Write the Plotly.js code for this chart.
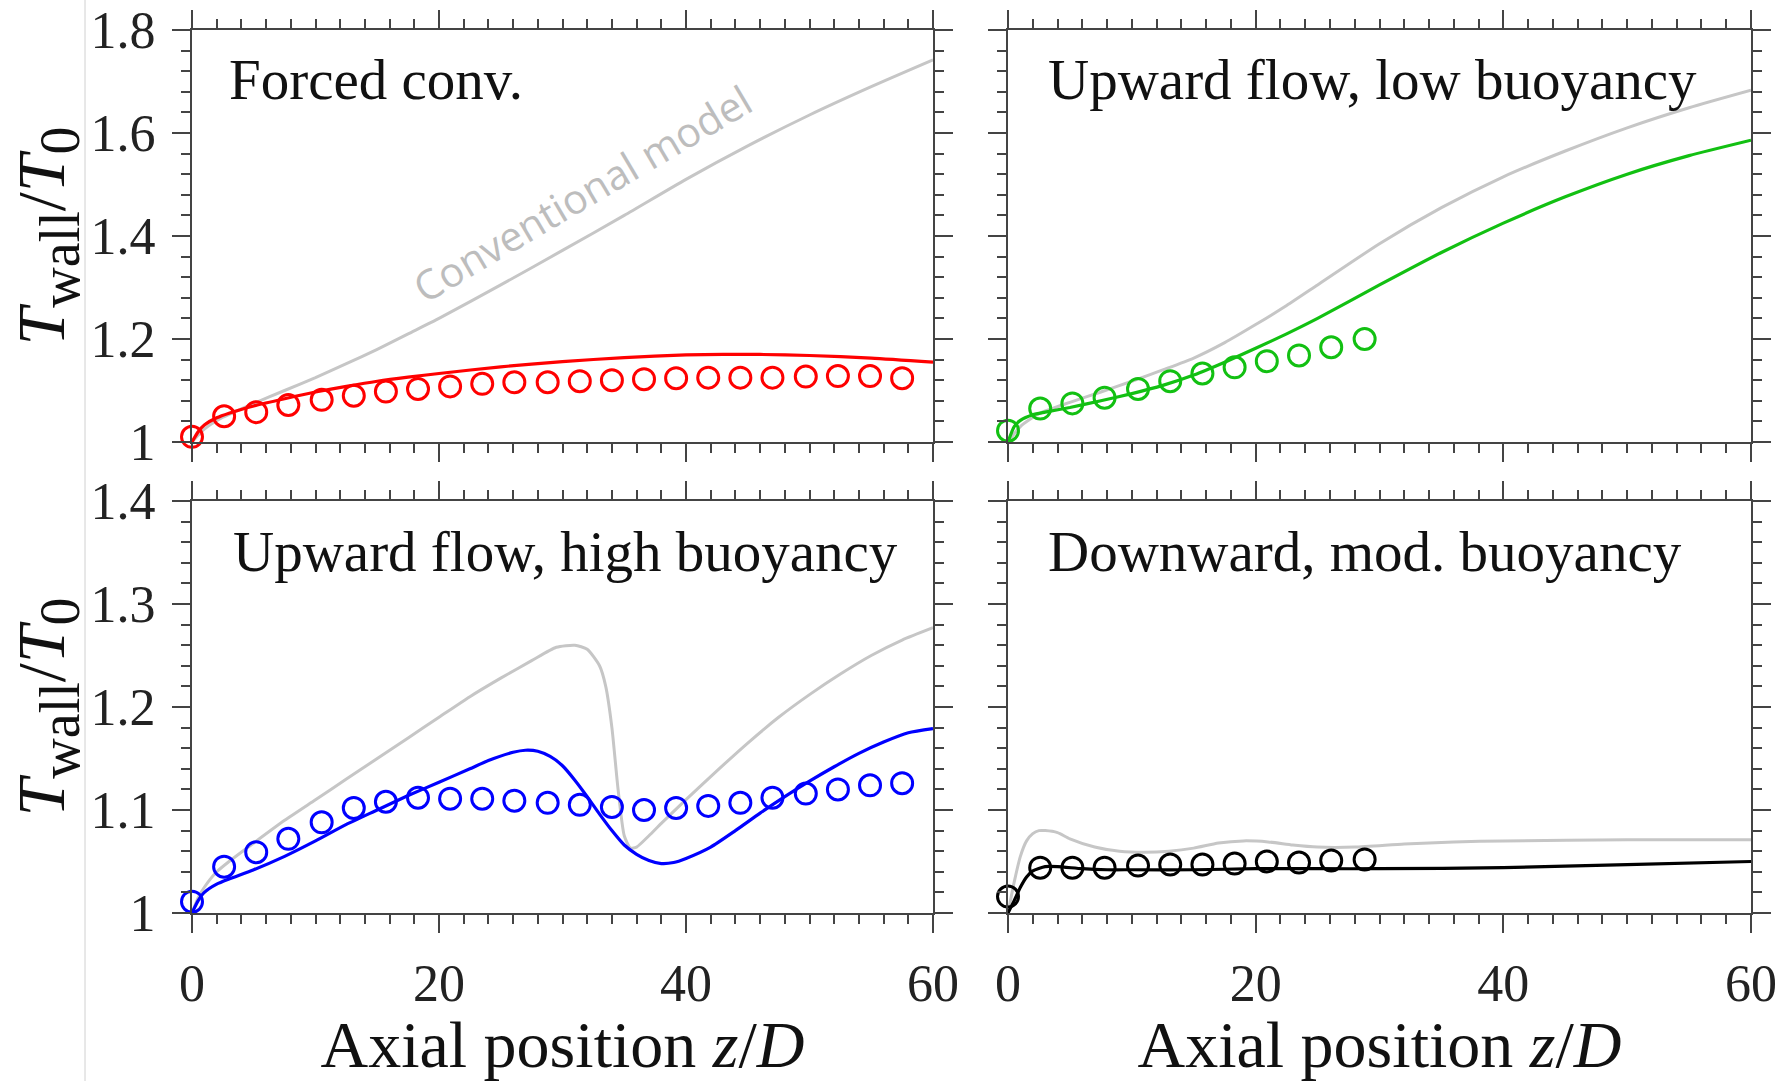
<!DOCTYPE html>
<html>
<head>
<meta charset="utf-8">
<script src="https://cdn.plot.ly/plotly-3.0.1.min.js"></script>
<style>html,body{margin:0;padding:0;background:#fff;}#chart{width:1783px;height:1081px;}</style>
</head>
<body>
<div id="chart"></div>
<script>
// ---------- Tick values ----------
const xTicks = [0, 20, 40, 60];
const yTicksTop = [1, 1.2, 1.4, 1.6, 1.8];
const yTicksBottom = [1, 1.1, 1.2, 1.3, 1.4];

// ---------- Panel labels ----------
const panelLabels = ["Forced conv.", "Upward flow, low buoyancy", "Upward flow, high buoyancy", "Downward, mod. buoyancy"];

// ---------- Panel 1: Forced convection ----------
const p1ExpX = [0, 2.6, 5.2, 7.8, 10.5, 13.1, 15.7, 18.3, 20.9, 23.5, 26.1, 28.8, 31.4, 34.0, 36.6, 39.2, 41.8, 44.4, 47.0, 49.7, 52.3, 54.9, 57.5];
const p1ExpY = [1.01, 1.05, 1.058, 1.072, 1.082, 1.09, 1.098, 1.103, 1.108, 1.113, 1.116, 1.116, 1.118, 1.12, 1.122, 1.124, 1.125, 1.125, 1.125, 1.127, 1.128, 1.128, 1.124];
const p1ModelX = [0, 0.5, 1, 2, 3, 5, 7.5, 10, 12.5, 15, 17.5, 20, 25, 30, 35, 40, 43, 46, 50, 55, 60];
const p1ModelY = [1.0, 1.02, 1.033, 1.047, 1.056, 1.07, 1.084, 1.097, 1.108, 1.118, 1.126, 1.133, 1.146, 1.156, 1.164, 1.169, 1.17, 1.17, 1.168, 1.163, 1.155];
const p1ConvX = [0, 1, 2.5, 5, 7.5, 10, 12.5, 15, 17.5, 20, 25, 30, 35, 40, 45, 50, 55, 60];
const p1ConvY = [1.0, 1.025, 1.048, 1.075, 1.10, 1.125, 1.152, 1.18, 1.21, 1.24, 1.305, 1.372, 1.44, 1.51, 1.575, 1.635, 1.69, 1.742];

// ---------- Panel 2: Upward flow, low buoyancy ----------
const p2ExpX = [0, 2.6, 5.2, 7.8, 10.5, 13.1, 15.7, 18.3, 20.9, 23.5, 26.1, 28.8];
const p2ExpY = [1.022, 1.065, 1.075, 1.086, 1.103, 1.118, 1.133, 1.145, 1.157, 1.168, 1.184, 1.2];
const p2ModelX = [0, 0.5, 1, 2, 3, 5, 7.5, 10, 12.5, 15, 17.5, 20, 22.5, 25, 30, 35, 40, 45, 50, 55, 60];
const p2ModelY = [1.0, 1.03, 1.042, 1.053, 1.058, 1.067, 1.08, 1.094, 1.11, 1.13, 1.155, 1.182, 1.21, 1.24, 1.305, 1.368, 1.425, 1.476, 1.52, 1.556, 1.586];
const p2ConvX = [0, 1, 2.5, 5, 7.5, 10, 12.5, 15, 17.5, 20, 22.5, 25, 30, 35, 40, 45, 50, 55, 60];
const p2ConvY = [1.0, 1.03, 1.055, 1.077, 1.097, 1.118, 1.14, 1.163, 1.193, 1.228, 1.265, 1.305, 1.385, 1.455, 1.515, 1.565, 1.61, 1.649, 1.683];

// ---------- Panel 3: Upward flow, high buoyancy ----------
const p3ExpX = [0, 2.6, 5.2, 7.8, 10.5, 13.1, 15.7, 18.3, 20.9, 23.5, 26.1, 28.8, 31.4, 34.0, 36.6, 39.2, 41.8, 44.4, 47.0, 49.7, 52.3, 54.9, 57.5];
const p3ExpY = [1.011, 1.045, 1.059, 1.072, 1.088, 1.102, 1.108, 1.112, 1.111, 1.111, 1.109, 1.107, 1.105, 1.103, 1.1, 1.102, 1.104, 1.107, 1.112, 1.116, 1.12, 1.124, 1.126];
const p3ModelX = [0, 0.5, 1, 2, 3, 5, 7.5, 10, 12.5, 15, 17.5, 20, 22.5, 24, 26, 27, 28, 29, 30, 31, 32, 33, 34, 35, 36, 37, 38, 39, 40, 42, 44, 46, 48, 50, 52, 54, 56, 58, 60];
const p3ModelY = [1.0, 1.012, 1.02, 1.028, 1.033, 1.042, 1.055, 1.07, 1.086, 1.1, 1.114, 1.127, 1.14, 1.148, 1.156, 1.158, 1.157, 1.152, 1.143, 1.129, 1.113, 1.096, 1.08, 1.066, 1.057, 1.051, 1.048, 1.049, 1.053, 1.064, 1.08, 1.097, 1.113, 1.128, 1.142, 1.155, 1.166, 1.175, 1.179];
const p3ConvX = [0, 0.5, 1, 2, 3, 5, 7.5, 10, 12.5, 15, 17.5, 20, 22.5, 25, 27.5, 29.5, 31, 32, 33, 33.5, 34, 34.5, 35, 35.5, 36, 37, 38, 40, 42.5, 45, 47.5, 50, 52.5, 55, 57.5, 60];
const p3ConvY = [1.0, 1.015, 1.025, 1.04, 1.05, 1.068, 1.09, 1.11, 1.13, 1.15, 1.17, 1.19, 1.21, 1.228, 1.245, 1.258, 1.26, 1.256, 1.24, 1.22, 1.18, 1.12, 1.075, 1.063, 1.064, 1.075, 1.087, 1.11, 1.138, 1.165, 1.19, 1.212, 1.232, 1.25, 1.265, 1.277];

// ---------- Panel 4: Downward, moderate buoyancy ----------
const p4ExpX = [0, 2.6, 5.2, 7.8, 10.5, 13.1, 15.7, 18.3, 20.9, 23.5, 26.1, 28.8];
const p4ExpY = [1.016, 1.044, 1.044, 1.044, 1.046, 1.047, 1.047, 1.048, 1.05, 1.049, 1.051, 1.052];
const p4ModelX = [0, 0.5, 1, 1.5, 2, 3, 4, 6, 8, 10, 15, 20, 25, 30, 40, 50, 60];
const p4ModelY = [1.0, 1.012, 1.025, 1.035, 1.041, 1.045, 1.045, 1.043, 1.042, 1.042, 1.042, 1.043, 1.043, 1.043, 1.044, 1.047, 1.05];
const p4ConvX = [0, 0.5, 1, 1.5, 2, 2.5, 3, 4, 5, 7, 9, 11, 13, 15, 17, 19, 21, 23, 25, 28, 32, 36, 40, 50, 60];
const p4ConvY = [1.0, 1.03, 1.055, 1.07, 1.077, 1.08, 1.08, 1.078, 1.072, 1.064, 1.06, 1.059, 1.06, 1.063, 1.068, 1.07, 1.069, 1.066, 1.064, 1.064, 1.067, 1.069, 1.07, 1.071, 1.071];

// ---------- Styling ----------
const W = 1783, H = 1081;
const serif = "Liberation Serif, Times New Roman, serif";
const convColor = "#c6c6c6";
const axisColor = "#444444";

function px(x) { return x / W; }
function py(y) { return 1 - y / H; }

const panels = [
  {ex: p1ExpX, ey: p1ExpY, mx: p1ModelX, my: p1ModelY, cx: p1ConvX, cy: p1ConvY, color: "#ff0000", xa: "x", ya: "y"},
  {ex: p2ExpX, ey: p2ExpY, mx: p2ModelX, my: p2ModelY, cx: p2ConvX, cy: p2ConvY, color: "#12c012", xa: "x2", ya: "y2"},
  {ex: p3ExpX, ey: p3ExpY, mx: p3ModelX, my: p3ModelY, cx: p3ConvX, cy: p3ConvY, color: "#0000ff", xa: "x3", ya: "y3"},
  {ex: p4ExpX, ey: p4ExpY, mx: p4ModelX, my: p4ModelY, cx: p4ConvX, cy: p4ConvY, color: "#000000", xa: "x4", ya: "y4"}
];

const traces = [];
panels.forEach(p => {
  traces.push({x: p.cx, y: p.cy, xaxis: p.xa, yaxis: p.ya, type: "scatter", mode: "lines",
    line: {color: convColor, width: 3, shape: "spline", smoothing: 0.6}, hoverinfo: "skip"});
  traces.push({x: p.mx, y: p.my, xaxis: p.xa, yaxis: p.ya, type: "scatter", mode: "lines",
    line: {color: p.color, width: 3.2, shape: "spline", smoothing: 0.6}, hoverinfo: "skip"});
  traces.push({x: p.ex, y: p.ey, xaxis: p.xa, yaxis: p.ya, type: "scatter", mode: "markers", cliponaxis: false,
    marker: {symbol: "circle-open", size: 21, color: p.color, line: {width: 3, color: p.color}}, hoverinfo: "skip"});
});

const xDomL = [px(192), px(933)];
const xDomR = [px(1008), px(1751)];
const yDomT = [py(442), py(30)];
const yDomB = [py(913), py(501)];

const tickFont = {family: serif, size: 52, color: "#222"};
const yTitleText = "<i>T</i><sub><span style=\"font-size:56px\">wall</span></sub>/<i>T</i><sub><span style=\"font-size:56px\">0</span></sub>";

function xAxis(domain, anchor, showLabels, withTitle) {
  const a = {
    domain: domain, anchor: anchor, range: [0, 60], showline: true, linecolor: axisColor, linewidth: 2,
    mirror: "allticks", ticks: "outside", ticklen: 18, tickwidth: 2, tickcolor: axisColor,
    tickmode: "array", tickvals: xTicks, showticklabels: showLabels, tickfont: tickFont,
    ticklabelstandoff: 6,
    minor: {dtick: 2, tick0: 0, ticks: "outside", ticklen: 9, tickwidth: 2, tickcolor: axisColor, showgrid: false},
    showgrid: false, zeroline: false, fixedrange: true
  };
  if (withTitle) {
    a.title = {text: "Axial position <i>z</i>/<i>D</i>", font: {family: serif, size: 66, color: "#111"}, standoff: 0};
  }
  return a;
}
function yAxis(domain, anchor, range, tickvals, minorDtick, showLabels, withTitle) {
  const a = {
    domain: domain, anchor: anchor, range: range, showline: true, linecolor: axisColor, linewidth: 2,
    mirror: "allticks", ticks: "outside", ticklen: 18, tickwidth: 2, tickcolor: axisColor,
    tickmode: "array", tickvals: tickvals, showticklabels: showLabels, tickfont: tickFont,
    ticklabelstandoff: 6,
    minor: {dtick: minorDtick, tick0: 1, ticks: "outside", ticklen: 9, tickwidth: 2, tickcolor: axisColor, showgrid: false},
    showgrid: false, zeroline: false, fixedrange: true
  };
  if (withTitle) {
    a.title = {text: yTitleText, font: {family: serif, size: 68, color: "#111"}, standoff: 0};
  }
  return a;
}

const annotations = [
  {text: panelLabels[0], x: px(227), y: py(80), xanchor: "left", yanchor: "middle"},
  {text: panelLabels[1], x: px(1046), y: py(80), xanchor: "left", yanchor: "middle"},
  {text: panelLabels[2], x: px(231), y: py(551), xanchor: "left", yanchor: "middle"},
  {text: panelLabels[3], x: px(1046), y: py(551), xanchor: "left", yanchor: "middle"}
].map(a => Object.assign(a, {xref: "paper", yref: "paper", showarrow: false, font: {family: serif, size: 57, color: "#111"}}));

annotations.push({text: "Conventional model", xref: "paper", yref: "paper", x: px(582), y: py(193),
  xanchor: "center", yanchor: "middle", showarrow: false, textangle: -30.5,
  font: {family: "Open Sans, sans-serif", size: 41, color: "#bdbdbd"}});

const layout = {
  width: W, height: H, margin: {l: 0, r: 0, t: 0, b: 0},
  paper_bgcolor: "#ffffff", plot_bgcolor: "#ffffff", showlegend: false,
  xaxis: xAxis(xDomL, "y", false, false),
  yaxis: yAxis(yDomT, "x", [1, 1.8], yTicksTop, 0.04, true, true),
  xaxis2: xAxis(xDomR, "y2", false, false),
  yaxis2: yAxis(yDomT, "x2", [1, 1.8], yTicksTop, 0.04, false, false),
  xaxis3: xAxis(xDomL, "y3", true, true),
  yaxis3: yAxis(yDomB, "x3", [1, 1.4], yTicksBottom, 0.02, true, true),
  xaxis4: xAxis(xDomR, "y4", true, true),
  yaxis4: yAxis(yDomB, "x4", [1, 1.4], yTicksBottom, 0.02, false, false),
  annotations: annotations,
  shapes: [{type: "line", xref: "paper", yref: "paper", x0: px(85), x1: px(85), y0: 0, y1: 1,
    line: {color: "#d0d0d0", width: 1}}]
};

Plotly.newPlot("chart", traces, layout, {displayModeBar: false, staticPlot: true});
</script>
</body>
</html>
